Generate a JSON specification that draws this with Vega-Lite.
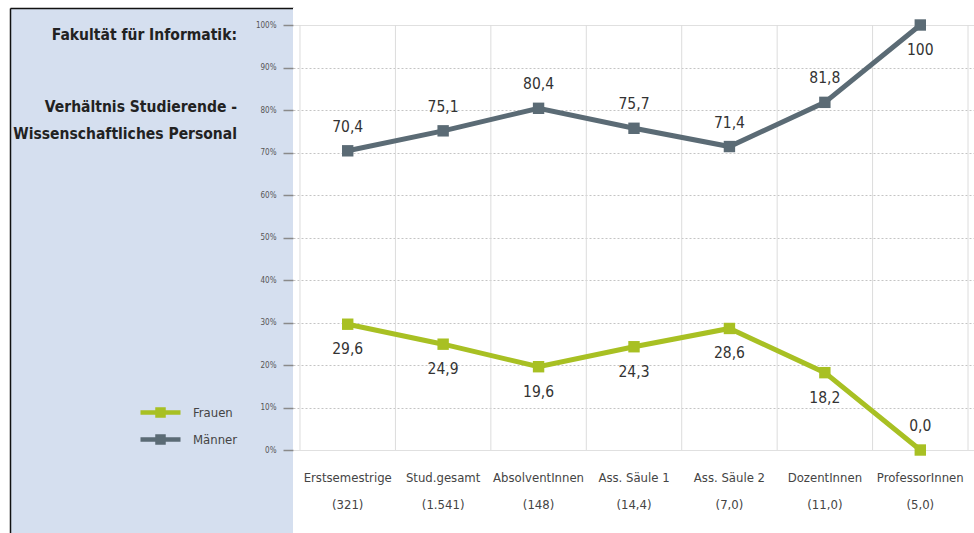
{
  "$schema": "https://vega.github.io/schema/vega-lite/v6.json",
  "background": "white",
  "padding": {"left": 10, "top": 8, "right": 0, "bottom": 0},
  "autosize": {"type": "pad"},
  "bounds": "flush",
  "spacing": 0,
  "config": {"font": "DejaVu Sans Condensed, Liberation Sans, sans-serif"},
  "datasets": {
    "vals": [
      {"cat": "Erstsemestrige (321)", "g": "Frauen", "v": 29.6, "label": "29,6"},
      {"cat": "Stud.gesamt (1.541)", "g": "Frauen", "v": 24.9, "label": "24,9"},
      {"cat": "AbsolventInnen (148)", "g": "Frauen", "v": 19.6, "label": "19,6"},
      {"cat": "Ass. Säule 1 (14,4)", "g": "Frauen", "v": 24.3, "label": "24,3"},
      {"cat": "Ass. Säule 2 (7,0)", "g": "Frauen", "v": 28.6, "label": "28,6"},
      {"cat": "DozentInnen (11,0)", "g": "Frauen", "v": 18.2, "label": "18,2"},
      {"cat": "ProfessorInnen (5,0)", "g": "Frauen", "v": 0.0, "label": "0,0"},
      {"cat": "Erstsemestrige (321)", "g": "Männer", "v": 70.4, "label": "70,4"},
      {"cat": "Stud.gesamt (1.541)", "g": "Männer", "v": 75.1, "label": "75,1"},
      {"cat": "AbsolventInnen (148)", "g": "Männer", "v": 80.4, "label": "80,4"},
      {"cat": "Ass. Säule 1 (14,4)", "g": "Männer", "v": 75.7, "label": "75,7"},
      {"cat": "Ass. Säule 2 (7,0)", "g": "Männer", "v": 71.4, "label": "71,4"},
      {"cat": "DozentInnen (11,0)", "g": "Männer", "v": 81.8, "label": "81,8"},
      {"cat": "ProfessorInnen (5,0)", "g": "Männer", "v": 100, "label": "100"}
    ]
  },
  "hconcat": [
    {
      "width": 283,
      "height": 526,
      "view": {"fill": "#d5dfef", "stroke": null},
      "title": {
        "text": "Fakultät für Informatik:",
        "subtitle": ["Verhältnis Studierende -", "Wissenschaftliches Personal"],
        "orient": "top",
        "anchor": "end",
        "frame": "group",
        "align": "right",
        "dx": -56,
        "offset": -134,
        "font": "DejaVu Sans Condensed, Liberation Sans, sans-serif",
        "fontSize": 15.5,
        "fontWeight": "bold",
        "color": "#222222",
        "subtitleFont": "DejaVu Sans Condensed, Liberation Sans, sans-serif",
        "subtitleFontSize": 15.5,
        "subtitleFontWeight": "bold",
        "subtitleColor": "#222222",
        "subtitleLineHeight": 27,
        "subtitlePadding": 56
      },
      "data": {"values": [{}]},
      "mark": {"type": "text", "text": ""},
      "encoding": {
        "x": {
          "datum": 0,
          "type": "quantitative",
          "scale": {"domain": [0, 1]},
          "axis": {"orient": "top", "title": null, "labels": false, "ticks": false, "grid": false, "domain": true, "domainColor": "#111111", "domainWidth": 1.5}
        },
        "y": {
          "datum": 0,
          "type": "quantitative",
          "scale": {"domain": [0, 1]},
          "axis": {"orient": "left", "title": null, "labels": false, "ticks": false, "grid": false, "domain": true, "domainColor": "#111111", "domainWidth": 1.5}
        }
      }
    },
    {
      "width": 682,
      "height": 526,
      "view": {"fill": "white", "stroke": null},
      "data": {"name": "vals"},
      "encoding": {
        "x": {
          "field": "cat",
          "type": "nominal",
          "sort": null,
          "scale": {"type": "band", "paddingInner": 0, "paddingOuter": 0.0733},
          "axis": {
            "title": null,
            "orient": "bottom",
            "offset": -76,
            "domain": false,
            "ticks": false,
            "grid": false,
            "labelAngle": 0,
            "labelPadding": 13,
            "labelFont": "DejaVu Sans Condensed, Liberation Sans, sans-serif",
            "labelFontSize": 13,
            "labelColor": "#444444",
            "labelLineHeight": 27,
            "labelLimit": 0,
            "labelExpr": "[slice(datum.label, 0, indexof(datum.label, ' (')), slice(datum.label, indexof(datum.label, ' (') + 1)]"
          }
        }
      },
      "layer": [
        {
          "transform": [{"filter": "datum.g == 'Frauen'"}],
          "mark": {"type": "rule", "color": "#dcdcdc", "strokeWidth": 1},
          "encoding": {
            "x": {"field": "cat", "type": "nominal", "sort": null, "bandPosition": 0},
            "y": {"datum": 0, "type": "quantitative"},
            "y2": {"datum": 100}
          }
        },
        {
          "transform": [{"filter": "datum.g == 'Frauen' && indexof(datum.cat, 'Professor') == 0"}],
          "mark": {"type": "rule", "color": "#dcdcdc", "strokeWidth": 1},
          "encoding": {
            "x": {"field": "cat", "type": "nominal", "sort": null, "bandPosition": 1},
            "y": {"datum": 0, "type": "quantitative"},
            "y2": {"datum": 100}
          }
        },
        {
          "mark": {"type": "line", "strokeWidth": 5},
          "encoding": {
            "y": {
              "field": "v",
              "type": "quantitative",
              "scale": {"domain": [-19.76, 104], "nice": false, "zero": false},
              "axis": {
                "values": [0, 5, 10, 15, 20, 25, 30, 35, 40, 45, 50, 55, 60, 65, 70, 75, 80, 85, 90, 95, 100, 104],
                "title": null,
                "domain": false,
                "labelOverlap": false,
                "labelExpr": "datum.value % 10 == 0 && datum.value <= 100 ? datum.value + '%' : ''",
                "labelFont": "DejaVu Sans Condensed, Liberation Sans, sans-serif",
                "labelFontSize": 8,
                "labelColor": "#555555",
                "labelPadding": 7,
                "tickColor": "#8a8a8a",
                "tickWidth": 1.5,
                "tickSize": {"condition": {"test": "datum.value % 10 == 0", "value": 10}, "value": 7},
                "tickOpacity": {"condition": {"test": "datum.value > 100", "value": 0}, "value": 1},
                "grid": true,
                "gridColor": {"condition": [{"test": "datum.value > 100", "value": "#111111"}, {"test": "datum.value == 0 || datum.value == 100", "value": "#e0e0e0"}], "value": "#c4c4c4"},
                "gridDash": {"condition": {"test": "datum.value > 0 && datum.value < 100", "value": [2, 2]}, "value": []},
                "gridWidth": {"condition": {"test": "datum.value > 100", "value": 1.5}, "value": 1},
                "gridOpacity": {"condition": {"test": "datum.value % 10 == 0 || datum.value > 100", "value": 1}, "value": 0}
              }
            },
            "color": {
              "field": "g",
              "type": "nominal",
              "scale": {"domain": ["Frauen", "Männer"], "range": ["#a8c023", "#5b6b75"]},
              "legend": {
                "title": null,
                "orient": "none",
                "legendX": 138,
                "legendY": 392,
                "symbolType": "M-2,0H2M-0.3,-0.3H0.3V0.3H-0.3Z",
                "symbolSize": 400,
                "symbolStrokeWidth": 4.5,
                "labelFont": "DejaVu Sans Condensed, Liberation Sans, sans-serif",
                "labelFontSize": 13,
                "labelColor": "#444444",
                "labelOffset": 20,
                "rowPadding": 2,
                "encode": {
                  "symbols": {
                    "update": {
                      "fill": {"scale": "color", "field": "value"},
                      "stroke": {"scale": "color", "field": "value"},
                      "opacity": {"value": 1}
                    }
                  }
                }
              }
            }
          }
        },
        {
          "mark": {"type": "square", "size": 130, "opacity": 1},
          "encoding": {
            "y": {"field": "v", "type": "quantitative"},
            "color": {"field": "g", "type": "nominal"}
          }
        },
        {
          "transform": [{"filter": "(datum.g == 'Männer' && datum.v < 100) || (datum.g == 'Frauen' && datum.v == 0)"}],
          "mark": {"type": "text", "dy": -24, "font": "DejaVu Sans Condensed, Liberation Sans, sans-serif", "fontSize": 15.5, "color": "#333333", "baseline": "middle"},
          "encoding": {
            "y": {"field": "v", "type": "quantitative"},
            "text": {"field": "label"}
          }
        },
        {
          "transform": [{"filter": "(datum.g == 'Frauen' && datum.v > 0) || (datum.g == 'Männer' && datum.v >= 100)"}],
          "mark": {"type": "text", "dy": 25, "font": "DejaVu Sans Condensed, Liberation Sans, sans-serif", "fontSize": 15.5, "color": "#333333", "baseline": "middle"},
          "encoding": {
            "y": {"field": "v", "type": "quantitative"},
            "text": {"field": "label"}
          }
        }
      ]
    }
  ]
}
